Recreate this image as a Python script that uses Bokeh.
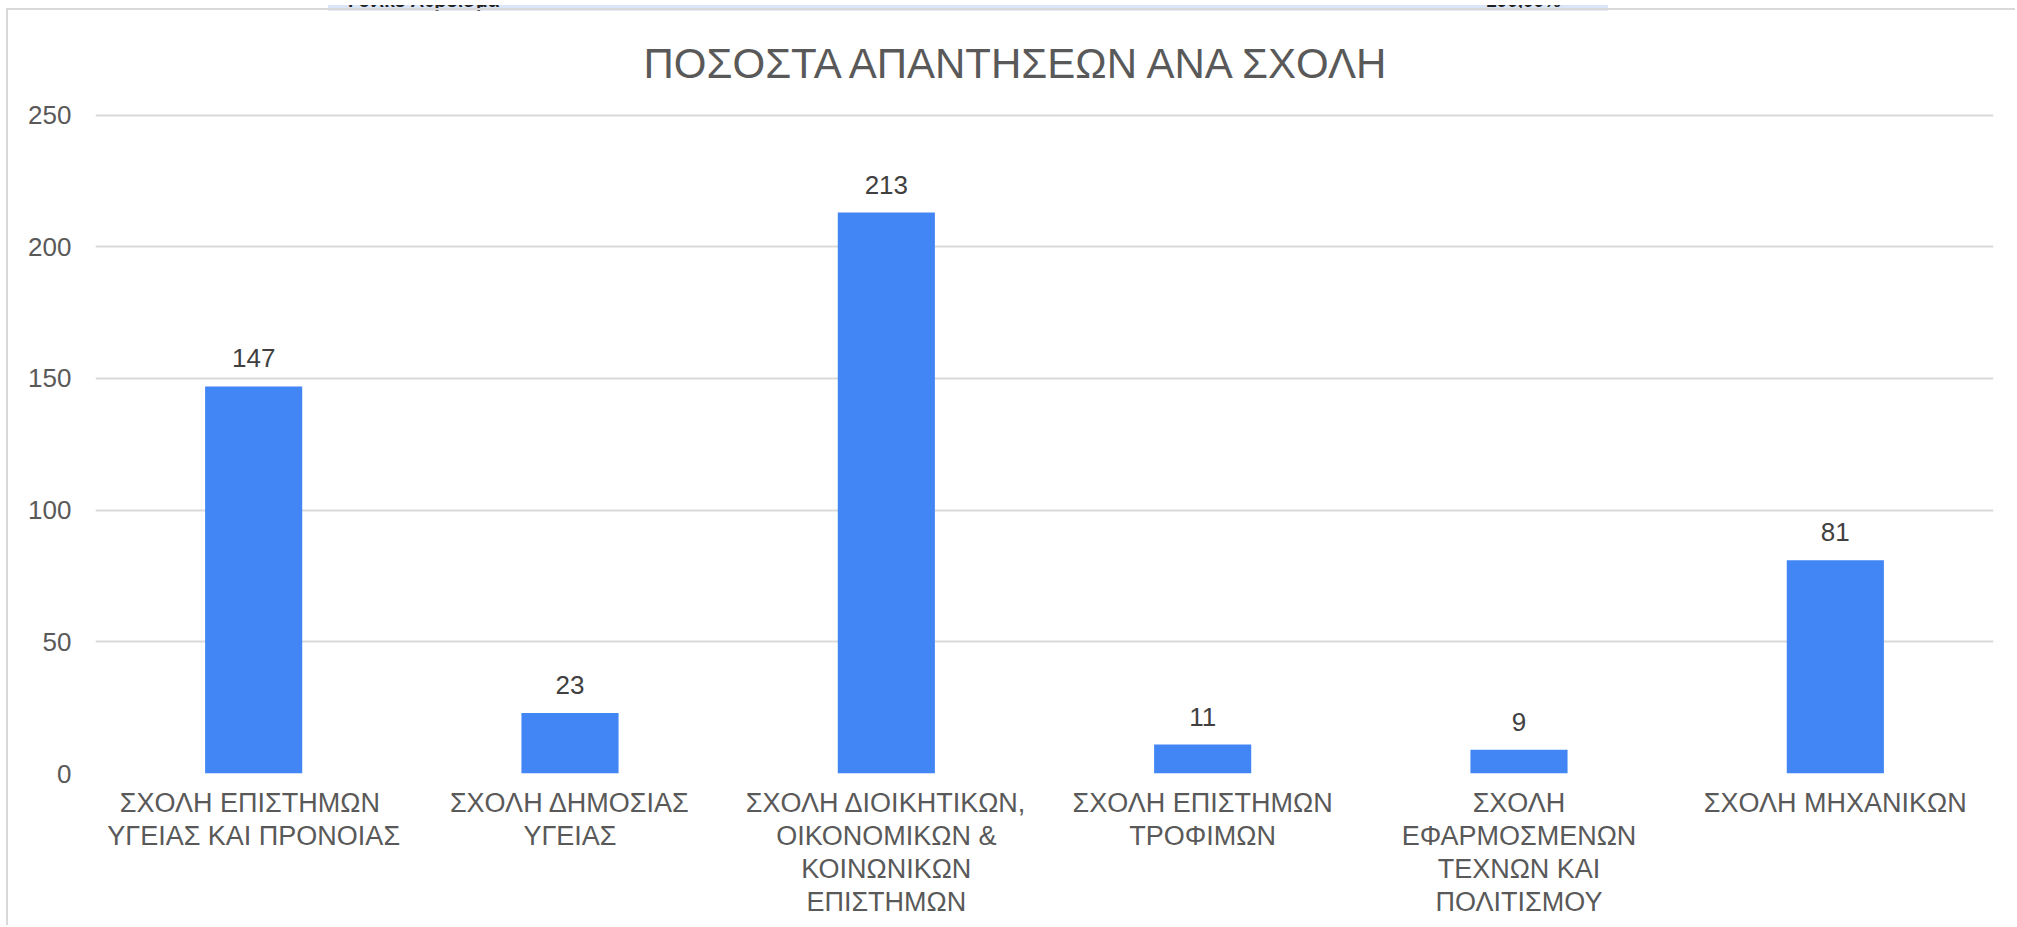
from bokeh.plotting import figure
from bokeh.models import ColumnDataSource, Range1d, Div
from bokeh.layouts import column
from bokeh.core.properties import value
from bokeh.embed import file_html
from bokeh.resources import INLINE

categories = [
    "ΣΧΟΛΗ  ΕΠΙΣΤΗΜΩΝ\nΥΓΕΙΑΣ ΚΑΙ ΠΡΟΝΟΙΑΣ",
    "ΣΧΟΛΗ ΔΗΜΟΣΙΑΣ\nΥΓΕΙΑΣ",
    "ΣΧΟΛΗ ΔΙΟΙΚΗΤΙΚΩΝ,\nΟΙΚΟΝΟΜΙΚΩΝ &\nΚΟΙΝΩΝΙΚΩΝ\nΕΠΙΣΤΗΜΩΝ",
    "ΣΧΟΛΗ ΕΠΙΣΤΗΜΩΝ\nΤΡΟΦΙΜΩΝ",
    "ΣΧΟΛΗ\nΕΦΑΡΜΟΣΜΕΝΩΝ\nΤΕΧΝΩΝ ΚΑΙ\nΠΟΛΙΤΙΣΜΟΥ",
    "ΣΧΟΛΗ ΜΗΧΑΝΙΚΩΝ",
]
responses = [147, 23, 213, 11, 9, 81]
y_ticks = [0, 50, 100, 150, 200, 250]
title_text = "ΠΟΣΟΣΤΑ ΑΠΑΝΤΗΣΕΩΝ ΑΝΑ ΣΧΟΛΗ"
strip_left_text = "Γενικό Άθροισμα"
strip_right_text = "100,00%"

FONT = "Liberation Sans"

source = ColumnDataSource(dict(
    cat=categories,
    val=responses,
    lbl=[str(v) for v in responses],
))

p = figure(
    x_range=categories, y_range=Range1d(0, 251),
    width=2007, height=915,
    frame_width=1896, frame_height=659,
    min_border_left=87, min_border_right=24,
    min_border_top=102, min_border_bottom=154,
    output_backend="svg", toolbar_location=None,
    title=title_text,
)
p.styles = {"margin-left": "6px",
            "border-left": "2px solid #d9d9d9",
            "border-top": "2px solid #d9d9d9"}
p.outline_line_color = None
p.background_fill_color = "white"
p.border_fill_color = "white"

p.title.text_font = FONT
p.title.text_font_size = "42px"
p.title.text_font_style = "normal"
p.title.text_color = "#595959"
p.title.align = "left"
p.title.vertical_align = "bottom"
p.title.offset = 548
p.title.standoff = 52

p.vbar(x="cat", top="val", width=0.307, source=source,
       fill_color="#4285F4", line_color=None)

p.text(x="cat", y="val", text="lbl", source=source,
       text_align="center", text_baseline="alphabetic", y_offset=-28,
       text_font=value(FONT), text_font_size="26px", text_color="#404040")

p.xgrid.grid_line_color = None
p.ygrid.grid_line_color = "#d9d9d9"
p.ygrid.grid_line_width = 2
p.yaxis.ticker = y_ticks

for ax in (p.xaxis[0], p.yaxis[0]):
    ax.axis_line_color = None
    ax.major_tick_line_color = None
    ax.minor_tick_line_color = None
    ax.major_tick_out = 0
    ax.major_tick_in = 0
    ax.major_label_text_font = FONT
    ax.major_label_text_color = "#595959"

p.yaxis.major_label_text_font_size = "26px"
p.yaxis.major_label_standoff = 24
p.xaxis.major_label_text_font_size = "27px"
p.xaxis.major_label_standoff = 14
p.xaxis.major_label_text_line_height = 1.1

strip_html = (
    '<div style="position:relative;margin-left:328px;width:1280px;height:7px;'
    'overflow:hidden;background:#dae5f8;">'
    '<span style="position:absolute;left:20px;top:-15px;font:bold 19px \'Liberation Sans\';'
    'color:#1f1f1f;white-space:nowrap;">' + strip_left_text + '</span>'
    '<span style="position:absolute;left:1158px;top:-15px;font:bold 19px \'Liberation Sans\';'
    'color:#1f1f1f;white-space:nowrap;">' + strip_right_text + '</span>'
    '</div>'
)
strip = Div(text=strip_html, width=1620, height=8,
            styles={"margin": "0", "padding": "0"})

layout = column(strip, p, spacing=0)

open("out.html", "w").write(file_html(layout, INLINE))
